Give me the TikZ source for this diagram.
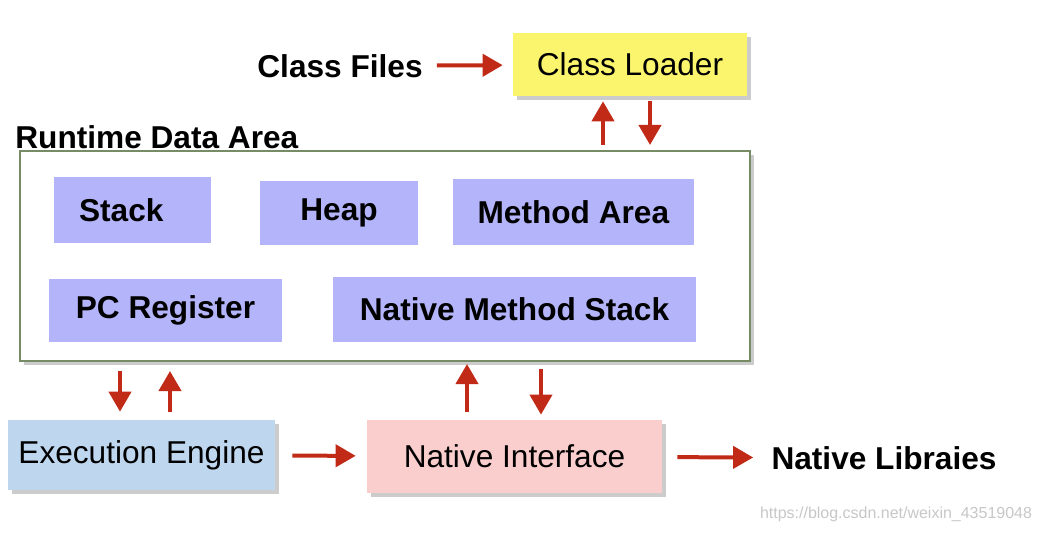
\documentclass[tikz,border=0pt]{standalone}
\usepackage{fontspec}
\setmainfont{Liberation Sans}
\usepackage{tikz}
\usetikzlibrary{arrows.meta,shadows}

\definecolor{loaderyellow}{RGB}{251,245,110}
\definecolor{arealilac}{RGB}{180,180,250}
\definecolor{enginblue}{RGB}{190,215,238}
\definecolor{nativepink}{RGB}{249,206,205}
\definecolor{framegreen}{RGB}{118,140,100}
\definecolor{arrowred}{RGB}{192,42,22}

\begin{document}
\begin{tikzpicture}[x=0.02cm, y=-0.02cm,
	every node/.style={font=\fontsize{18}{20}\selectfont},
	shade box/.style={drop shadow={shadow xshift=0.08cm, shadow yshift=-0.08cm, fill=black!50, opacity=0.4}},
	area box/.style={fill=arealilac, inner sep=0},
	arr/.style={-{Triangle[length=0.4cm,width=0.44cm]}, line width=0.08cm, draw=arrowred},
	label text/.style={font=\fontsize{18}{20}\selectfont\bfseries, inner sep=0}]
	
	\useasboundingbox (0,0) rectangle (1041,533);
	
	\node[label text] (cfiles) at (340, 66)     {Class Files};
	\node[shade box, fill=loaderyellow, minimum width=4.68cm, minimum height=1.26cm] (loader) at (630, 64.5)     {Class Loader};
	
	\node[label text, anchor=west] (rdalabel) at (15, 137)     {Runtime Data Area};
	\node[shade box, draw=framegreen, line width=1.2pt, fill=white, minimum width=14.6cm, minimum height=4.2cm] (runtime) at (385, 256)     {};
	
	\node[area box, minimum width=3.14cm, minimum height=1.32cm] (stack) at (132.5, 210)     {\textbf{Stack}\kern0.45cm};
	\node[area box, minimum width=3.16cm, minimum height=1.28cm] (heap) at (339, 213)     {\raisebox{-3pt}{\textbf{Heap}}};
	\node[area box, minimum width=4.82cm, minimum height=1.32cm] (method) at (573.5, 212)     {\textbf{Method Area}};
	\node[area box, minimum width=4.66cm, minimum height=1.26cm] (pcreg) at (165.5, 310.5)     {\textbf{PC Register}};
	\node[area box, minimum width=7.26cm, minimum height=1.30cm] (nmstack) at (514.5, 309.5)     {\textbf{Native Method Stack}};
	
	\node[shade box, fill=enginblue, minimum width=5.34cm, minimum height=1.40cm] (engine) at (141.5, 455)     {Execution Engine};
	\node[shade box, fill=nativepink, minimum width=5.90cm, minimum height=1.46cm] (native) at (514.5, 456.5)     {Native Interface};
	\node[label text] (nlibs) at (884, 458)     {Native Libraies};
	
	\node[font=\fontsize{9.1}{11}\selectfont, text=black!22, inner sep=0] (mark) at (896, 514)     {https://blog.csdn.net/weixin\_43519048};
	
	\coordinate (ldUp) at ([xshift=-0.54cm]loader.south);
	\coordinate (ldDown) at ([xshift=0.40cm]loader.south);
	\coordinate (egDown) at ([xshift=-0.43cm]engine.north);
	\coordinate (egUp) at ([xshift=0.57cm]engine.north);
	\coordinate (niUp) at ([xshift=-0.95cm]native.north);
	\coordinate (niDown) at ([xshift=0.53cm]native.north);
	
	\draw[arr, shorten <=0.28cm, shorten >=0.2cm] (cfiles) -- (loader);
	\draw[arr, shorten <=0.1cm, shorten >=0.1cm] (ldUp |- runtime.north) -- (ldUp);
	\draw[arr, shorten <=0.1cm, shorten >=0.1cm] (ldDown) -- (ldDown |- runtime.north);
	\draw[arr, shorten <=0.18cm, shorten >=0.16cm] (egDown |- runtime.south) -- (egDown);
	\draw[arr, shorten <=0.16cm, shorten >=0.18cm] (egUp) -- (egUp |- runtime.south);
	\draw[arr, shorten <=0.16cm, shorten >=0.04cm] (niUp) -- (niUp |- runtime.south);
	\draw[arr, shorten <=0.14cm, shorten >=0.1cm] (niDown |- runtime.south) -- (niDown);
	\draw[arr, shorten <=0.34cm, shorten >=0.22cm] (engine) -- (native);
	\draw[arr, shorten <=0.30cm, shorten >=0.36cm] (native) -- (nlibs);
	
\end{tikzpicture}
\end{document}
